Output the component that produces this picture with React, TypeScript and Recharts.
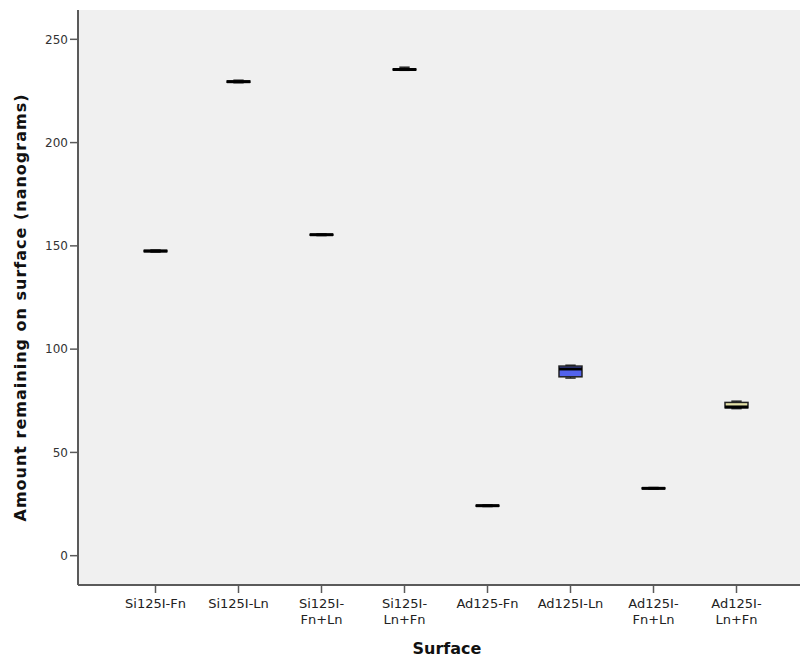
import React from 'react';
import { Bar, CartesianGrid, ComposedChart, XAxis, YAxis } from 'recharts';

// Box plot of amount remaining per surface (SPSS-style boxes)
const W = 804;
const H = 659;

const categories = [
  'Si125I-Fn',
  'Si125I-Ln',
  'Si125I-Fn+Ln',
  'Si125I-Ln+Fn',
  'Ad125-Fn',
  'Ad125I-Ln',
  'Ad125I-Fn+Ln',
  'Ad125I-Ln+Fn',
];
const tickLines = [
  ['Si125I-Fn'],
  ['Si125I-Ln'],
  ['Si125I-', 'Fn+Ln'],
  ['Si125I-', 'Ln+Fn'],
  ['Ad125-Fn'],
  ['Ad125I-Ln'],
  ['Ad125I-', 'Fn+Ln'],
  ['Ad125I-', 'Ln+Fn'],
];
const mins = [147.0, 229.0, 155.0, 235.0, 23.8, 86.0, 32.2, 71.2];
const q1s = [147.2, 229.2, 155.2, 235.2, 24.0, 86.6, 32.4, 71.6];
const medians = [147.5, 229.5, 155.4, 235.4, 24.2, 90.4, 32.6, 72.0];
const q3s = [147.8, 229.8, 155.6, 235.6, 24.4, 91.8, 32.8, 74.2];
const maxs = [148.0, 230.2, 155.8, 236.5, 24.6, 92.2, 33.0, 74.8];
const fills = ['#c8c8d8', '#c8c8d8', '#c8c8d8', '#c8c8d8', '#c8c8d8', '#5262ec', '#c8c8d8', '#e4e0a6'];
const yTicks = [0, 50, 100, 150, 200, 250];

const rows = categories.map((name, i) => ({
  name,
  range: [mins[i], maxs[i]],
  q1: q1s[i],
  median: medians[i],
  q3: q3s[i],
  fill: fills[i],
}));

const FONT = '"DejaVu Sans", sans-serif';
const AXIS = '#5a5a5a';

function BoxShape(props: any) {
  const { x, y, width, height, payload } = props;
  if (x == null || y == null) return null;
  const [lo, hi] = payload.range;
  const top = Math.min(y, y + height);
  const h = Math.abs(height);
  const py = (v: number) => top + (h * (hi - v)) / (hi - lo);
  const cx = x + width / 2;
  const capW = width * 0.45;
  const yq3 = py(payload.q3);
  const yq1 = py(payload.q1);
  return (
    <g>
      <line x1={cx} x2={cx} y1={py(hi)} y2={yq3} stroke="#222" strokeWidth={1.2} />
      <line x1={cx} x2={cx} y1={yq1} y2={py(lo)} stroke="#222" strokeWidth={1.2} />
      <line x1={cx - capW / 2} x2={cx + capW / 2} y1={py(hi)} y2={py(hi)} stroke="#222" strokeWidth={1.5} />
      <line x1={cx - capW / 2} x2={cx + capW / 2} y1={py(lo)} y2={py(lo)} stroke="#222" strokeWidth={1.5} />
      <rect x={x} y={yq3} width={width} height={Math.max(yq1 - yq3, 0.5)} fill={payload.fill} stroke="#222" strokeWidth={1.5} />
      <line x1={x} x2={x + width} y1={py(payload.median)} y2={py(payload.median)} stroke="#000" strokeWidth={3} />
    </g>
  );
}

function SurfaceTick(props: any) {
  const { x, y, index } = props;
  const lines = tickLines[index] ?? [];
  return (
    <text x={x} y={y} textAnchor="middle" fill="#222" fontSize={13} fontFamily={FONT}>
      {lines.map((l, i) => (
        <tspan key={i} x={x} dy={i === 0 ? 13 : 16}>
          {l}
        </tspan>
      ))}
    </text>
  );
}

export default function App() {
  return (
    <div style={{ position: 'absolute', left: 0, top: 0, width: W, height: H, background: '#fff' }}>
      <ComposedChart width={W} height={H} data={rows} margin={{ top: 10, right: 4, bottom: 0, left: 0 }}>
        <CartesianGrid fill="#f0f0f0" horizontal={false} vertical={false} />
        <XAxis
          dataKey="name"
          padding={{ left: 36, right: 22 }}
          tick={<SurfaceTick />}
          tickSize={8}
          tickLine={{ stroke: AXIS, strokeWidth: 1.5 }}
          axisLine={{ stroke: AXIS, strokeWidth: 2 }}
          interval={0}
          height={74}
          label={{ value: 'Surface', position: 'center', dx: 8, dy: 26, fill: '#111', fontSize: 16, fontWeight: 'bold', fontFamily: FONT }}
        />
        <XAxis
          xAxisId="top"
          orientation="top"
          dataKey="name"
          padding={{ left: 36, right: 22 }}
          tick={false}
          tickLine={false}
          axisLine={{ stroke: AXIS, strokeWidth: 2 }}
          height={0}
        />
        <YAxis
          domain={[-14.2, 264.2]}
          ticks={yTicks}
          allowDataOverflow
          width={78}
          tickSize={8}
          tickMargin={2}
          tick={{ fill: '#333', fontSize: 12, fontFamily: FONT }}
          tickLine={{ stroke: AXIS, strokeWidth: 1.5 }}
          axisLine={{ stroke: AXIS, strokeWidth: 2 }}
          label={{
            value: 'Amount remaining on surface (nanograms)',
            angle: -90,
            position: 'center',
            dx: -19,
            dy: 10,
            fill: '#111',
            fontSize: 16,
            fontWeight: 'bold',
            letterSpacing: 1,
            fontFamily: FONT,
          }}
        />
        <YAxis
          yAxisId="right"
          orientation="right"
          domain={[-14.2, 264.2]}
          tick={false}
          tickLine={false}
          axisLine={{ stroke: AXIS, strokeWidth: 2 }}
          width={0}
        />
        <Bar dataKey="range" barSize={23} shape={<BoxShape />} isAnimationActive={false} />
      </ComposedChart>
    </div>
  );
}
